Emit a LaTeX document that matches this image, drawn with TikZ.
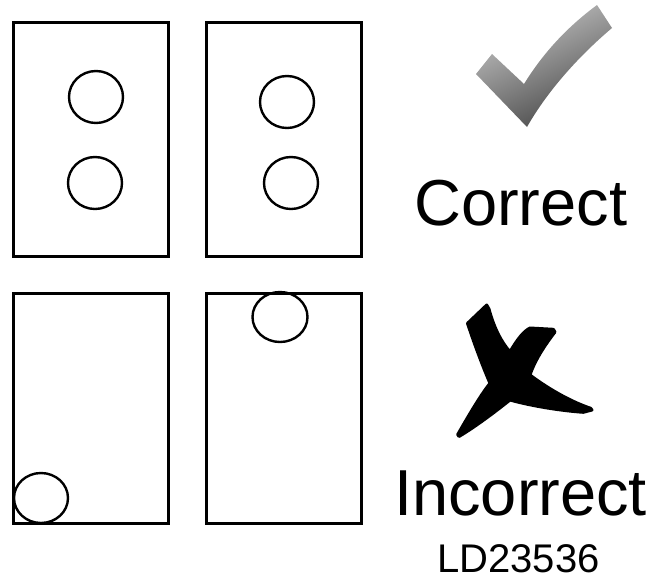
\documentclass[tikz,border=0pt]{standalone}
\usepackage{fontspec}
\setmainfont{Liberation Sans}
\begin{document}
\begin{tikzpicture}[x=1pt,y=-1pt,
  page/.style={draw=black,line width=3pt},
  hole/.style={draw=black,line width=2.4pt},
  bigtxt/.style={anchor=base west,inner sep=0pt,font=\fontsize{65}{65}\selectfont},
  smalltxt/.style={anchor=base west,inner sep=0pt,font=\fontsize{40}{40}\selectfont}]
\useasboundingbox (0,0) rectangle (654,579);
% pages
\draw[page] (13,22) rectangle (168,256);
\draw[page] (206,22) rectangle (361,256);
\draw[page] (13,293) rectangle (168,523);
\draw[page] (206,293) rectangle (361,523);
% holes
\draw[hole] (96,97) ellipse [x radius=27,y radius=26];
\draw[hole] (95,183) ellipse [x radius=27,y radius=26];
\draw[hole] (287,102) ellipse [x radius=27,y radius=26];
\draw[hole] (291,183) ellipse [x radius=27,y radius=26];
\draw[hole] (41,498) ellipse [x radius=27,y radius=25];
\draw[hole] (280,317) ellipse [x radius=27.5,y radius=25];
% check mark
\shade[top color=black!22,bottom color=black!72,shading angle=25]
  (476,74) -- (492,54) -- (524,84)
  .. controls (545,50) and (570,25) .. (597,5) -- (612,28)
  .. controls (580,55) and (548,90) .. (527,127) -- cycle;
% cross mark
\fill[black, draw=black, line width=3pt, line join=round]
  (467.5,323.3) -- (486.7,305) -- (489,309)
  .. controls (494,328) and (502,343) .. (510,351.7)
  .. controls (518,338) and (524,331) .. (530,328)
  -- (553.3,329.3) -- (555,332)
  .. controls (545,345) and (535,360) .. (530,375)
  .. controls (550,390) and (572,402) .. (590.7,408.3)
  -- (592,410) -- (583.3,412.3)
  .. controls (565,411) and (535,407) .. (510,400)
  .. controls (495,412) and (475,427) .. (459,436.5)
  -- (457.7,434.5)
  .. controls (470,413) and (482,393) .. (490,383.3)
  .. controls (482,365) and (473,340) .. (467.5,323.3) -- cycle;
% texts
\node[bigtxt] (correct) at (414,225) {Correct};
\node[bigtxt] (incorrect) at (394,515) {Incorrect};
\node[smalltxt] (code) at (437,572) {LD23536};
\end{tikzpicture}
\end{document}
